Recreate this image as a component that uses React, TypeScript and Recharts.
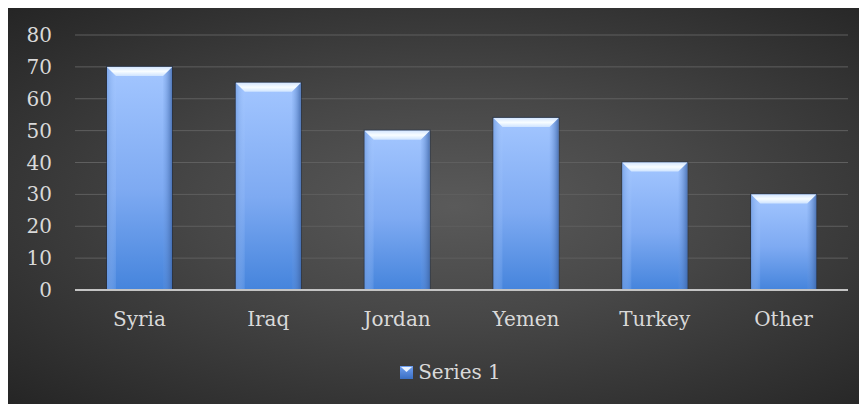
import { BarChart, Bar, XAxis, YAxis, CartesianGrid } from "recharts";

const countries = ["Syria", "Iraq", "Jordan", "Yemen", "Turkey", "Other"];
const series1 = [70, 65, 50, 54, 40, 30];
const yTicks = [0, 10, 20, 30, 40, 50, 60, 70, 80];
const seriesName = "Series 1";

const data = countries.map((name, i) => ({ name, value: series1[i] }));

const FONT = "DejaVu Serif";
const TEXT = "#d9d9d9";

function BevelBar(props: any) {
  const { x, y, width, height } = props;
  if (!height || height <= 0) return null;
  const b = 9;
  return (
    <g>
      <rect x={x - 1} y={y - 1} width={width + 2} height={height + 1} fill="#1f2d45" opacity={0.6} />
      <rect x={x} y={y} width={width} height={height} fill="url(#barBody)" />
      <polygon
        points={`${x},${y} ${x + b},${y + b} ${x + b},${y + height} ${x},${y + height}`}
        fill="url(#barLeft)"
      />
      <polygon
        points={`${x + width},${y} ${x + width - b},${y + b} ${x + width - b},${y + height} ${x + width},${y + height}`}
        fill="url(#barRight)"
      />
      <polygon
        points={`${x},${y} ${x + width},${y} ${x + width - b},${y + b} ${x + b},${y + b}`}
        fill="url(#barTop)"
      />
    </g>
  );
}

export default function App() {
  return (
    <div
      style={{
        width: 859,
        height: 396,
        position: "relative",
        background:
          "radial-gradient(ellipse at 52% 50%, #5a5a5a 0%, #474747 40%, #333333 75%, #252525 100%)",
      }}
    >
      <BarChart
        width={859}
        height={396}
        data={data}
        margin={{ top: 27, right: 19, bottom: 54, left: 17 }}
      >
        <defs>
          <linearGradient id="barBody" x1="0" y1="0" x2="0" y2="1">
            <stop offset="0%" stopColor="#a3c6ff" />
            <stop offset="55%" stopColor="#7eaaf2" />
            <stop offset="100%" stopColor="#4584dc" />
          </linearGradient>
          <linearGradient id="barLeft" x1="0" y1="0" x2="1" y2="0">
            <stop offset="0%" stopColor="#6f9be0" stopOpacity={0.7} />
            <stop offset="100%" stopColor="#a8caff" stopOpacity={0.15} />
          </linearGradient>
          <linearGradient id="barRight" x1="1" y1="0" x2="0" y2="0">
            <stop offset="0%" stopColor="#3e66a8" stopOpacity={0.8} />
            <stop offset="100%" stopColor="#6e9ae0" stopOpacity={0.1} />
          </linearGradient>
          <linearGradient id="barTop" x1="0" y1="0" x2="0" y2="1">
            <stop offset="0%" stopColor="#d4e6ff" />
            <stop offset="50%" stopColor="#f8fdff" />
            <stop offset="100%" stopColor="#cfe4ff" />
          </linearGradient>
        </defs>
        <CartesianGrid vertical={false} stroke="#5f5f5f" strokeWidth={1} />
        <XAxis
          dataKey="name"
          height={60}
          tickLine={false}
          tickSize={0}
          tickMargin={22}
          axisLine={{ stroke: "#c4c4c4", strokeWidth: 2 }}
          tick={{ fill: TEXT, fontSize: 20, fontFamily: FONT }}
        />
        <YAxis
          width={50}
          domain={[0, 80]}
          ticks={yTicks}
          interval={0}
          tickLine={false}
          tickSize={0}
          tickMargin={23}
          axisLine={false}
          tick={{ fill: TEXT, fontSize: 20, fontFamily: FONT }}
        />
        <Bar
          dataKey="value"
          name={seriesName}
          barSize={65}
          shape={BevelBar}
          isAnimationActive={false}
        />
      </BarChart>
      <div
        style={{
          position: "absolute",
          left: 0,
          right: 0,
          top: 352,
          display: "flex",
          justifyContent: "center",
          alignItems: "center",
          gap: 5,
          paddingLeft: 26,
          fontFamily: FONT,
          fontSize: 20,
          color: TEXT,
        }}
      >
        <svg width={13} height={13}>
          <defs>
            <linearGradient id="legendBody" x1="0" y1="0" x2="0" y2="1">
              <stop offset="0%" stopColor="#6f9ff0" />
              <stop offset="100%" stopColor="#3a6fc4" />
            </linearGradient>
          </defs>
          <rect x={0} y={0} width={13} height={13} fill="url(#legendBody)" />
          <polygon points="1,1 12,1 6.5,6" fill="#e8f2ff" />
        </svg>
        <span>{seriesName}</span>
      </div>
    </div>
  );
}
